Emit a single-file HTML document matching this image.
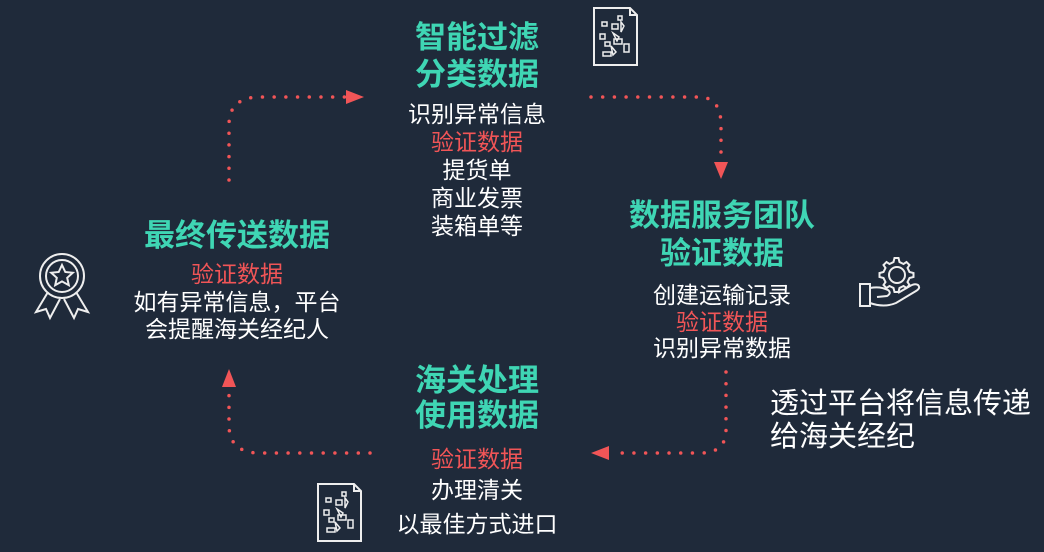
<!DOCTYPE html>
<html><head><meta charset="utf-8"><style>
html,body{margin:0;padding:0;}
body{width:1044px;height:552px;background:#1f2a3a;position:relative;overflow:hidden;font-family:"Liberation Sans","Noto Sans CJK SC",sans-serif;color:#fff;}
.t{position:absolute;text-align:center;white-space:nowrap;transform:translateX(-50%);}
.h{color:#3fd6b4;font-weight:bold;font-size:31px;line-height:37px;}
.b{font-size:23px;line-height:28px;}
.r{color:#f15557;}
</style></head><body>
<svg width="1044" height="552" style="position:absolute;left:0;top:0">
<g fill="none" stroke="#f15557" stroke-width="3.5" stroke-linecap="round" stroke-dasharray="0 11.7">
<path d="M229 180 L229 125 Q229 97 260 97 L345 97"/>
<path d="M591 97 L700 97 Q721 98 721 125 L721 160"/>
<path d="M726 372 L726 430 Q726 453 700 453 L612 453"/>
<path d="M370 453 L258 453 Q229 452 229 425 L229 388"/>
</g>
<g fill="#f15557">
<path d="M346 90 L364 97 L346 104Z"/>
<path d="M714 162 L728 162 L721 179Z"/>
<path d="M609 446 L591 453 L609 460Z"/>
<path d="M222 387 L236 387 L229 369Z"/>
</g>
<g fill="none" stroke="#eee" stroke-width="2">
<path d="M594 8 L630 8 L637 15 L637 65 L594 65Z M630 8 L630 15 L637 15"/>
<path d="M602 22h5v4h-5z M618 16h4v4h-4z M612 24h6v5h-6z M621 22l3 4-3 6z M600 34h5v5h-5z M613 33l6 4-2 4z M605 42h5v4h-5z M614 39h8v5h-8z M624 44h5v8h-5z M603 52h8v4h-8z M611 46l5 6-3 3z" stroke-width="1.5"/>
<path d="M318 484 L354 484 L361 491 L361 541 L318 541Z M354 484 L354 491 L361 491"/>
<path d="M326 498h5v4h-5z M342 492h4v4h-4z M336 500h6v5h-6z M345 498l3 4-3 6z M324 510h5v5h-5z M337 509l6 4-2 4z M329 518h5v4h-5z M338 515h8v5h-8z M348 520h5v8h-5z M327 528h8v4h-8z M335 522l5 6-3 3z" stroke-width="1.5"/>
<circle cx="62" cy="276" r="22"/><circle cx="62" cy="276" r="16"/>
<path d="M62 265 l3.3 7 7.5 .8 -5.6 5 1.6 7.4 -6.8 -3.8 -6.8 3.8 1.6 -7.4 -5.6 -5 7.5 -.8z"/>
<path d="M48 292 L36 312 L46 309 L50 318 L60 299 M76 292 L88 312 L78 309 L74 318 L64 299"/>
<circle cx="897" cy="275" r="8"/>
<path d="M897 258 l3 0 1 4 4 2 3-2 3 3-2 3 2 4 4 1 0 4-4 1-2 4 2 3-3 3-3-2-4 2-1 4-4 0-1-4-4-2-3 2-3-3 2-3-2-4-4-1 0-4 4-1 2-4-2-3 3-3 3 2 4-2 1-4z" transform="translate(-1.5 0)"/>
<path d="M860 284 h10 v22 h-10z M870 288 q10-2 18 2 q4 3 -1 6 l-10 1 M870 303 q14 5 26 0 l20-12 q5-3 2-6 q-3-2 -8 1 l-12 7"/>
</g>
</svg>
<div class="t h" style="left:477px;top:19px">智能过滤<br>分类数据</div>
<div class="t b" style="left:477px;top:100px">识别异常信息<br><span class="r">验证数据</span><br>提货单<br>商业发票<br>装箱单等</div>
<div class="t h" style="left:722px;top:197px;line-height:38px">数据服务团队<br>验证数据</div>
<div class="t b" style="left:722px;top:282px;line-height:26.5px">创建运输记录<br><span class="r">验证数据</span><br>识别异常数据</div>
<div class="t h" style="left:237px;top:217px">最终传送数据</div>
<div class="t b" style="left:237px;top:261px;line-height:27.5px"><span class="r">验证数据</span><br>如有异常信息，平台<br>会提醒海关经纪人</div>
<div class="t h" style="left:477px;top:363px;line-height:35px">海关处理<br>使用数据</div>
<div class="t b" style="left:477px;top:444px;line-height:31px"><span class="r">验证数据</span><br>办理清关<br><span style="position:relative;top:3px">以最佳方式进口</span></div>
<div style="position:absolute;left:770px;top:388px;font-size:29px;line-height:33px">透过平台将信息传递<br>给海关经纪</div>
</body></html>
